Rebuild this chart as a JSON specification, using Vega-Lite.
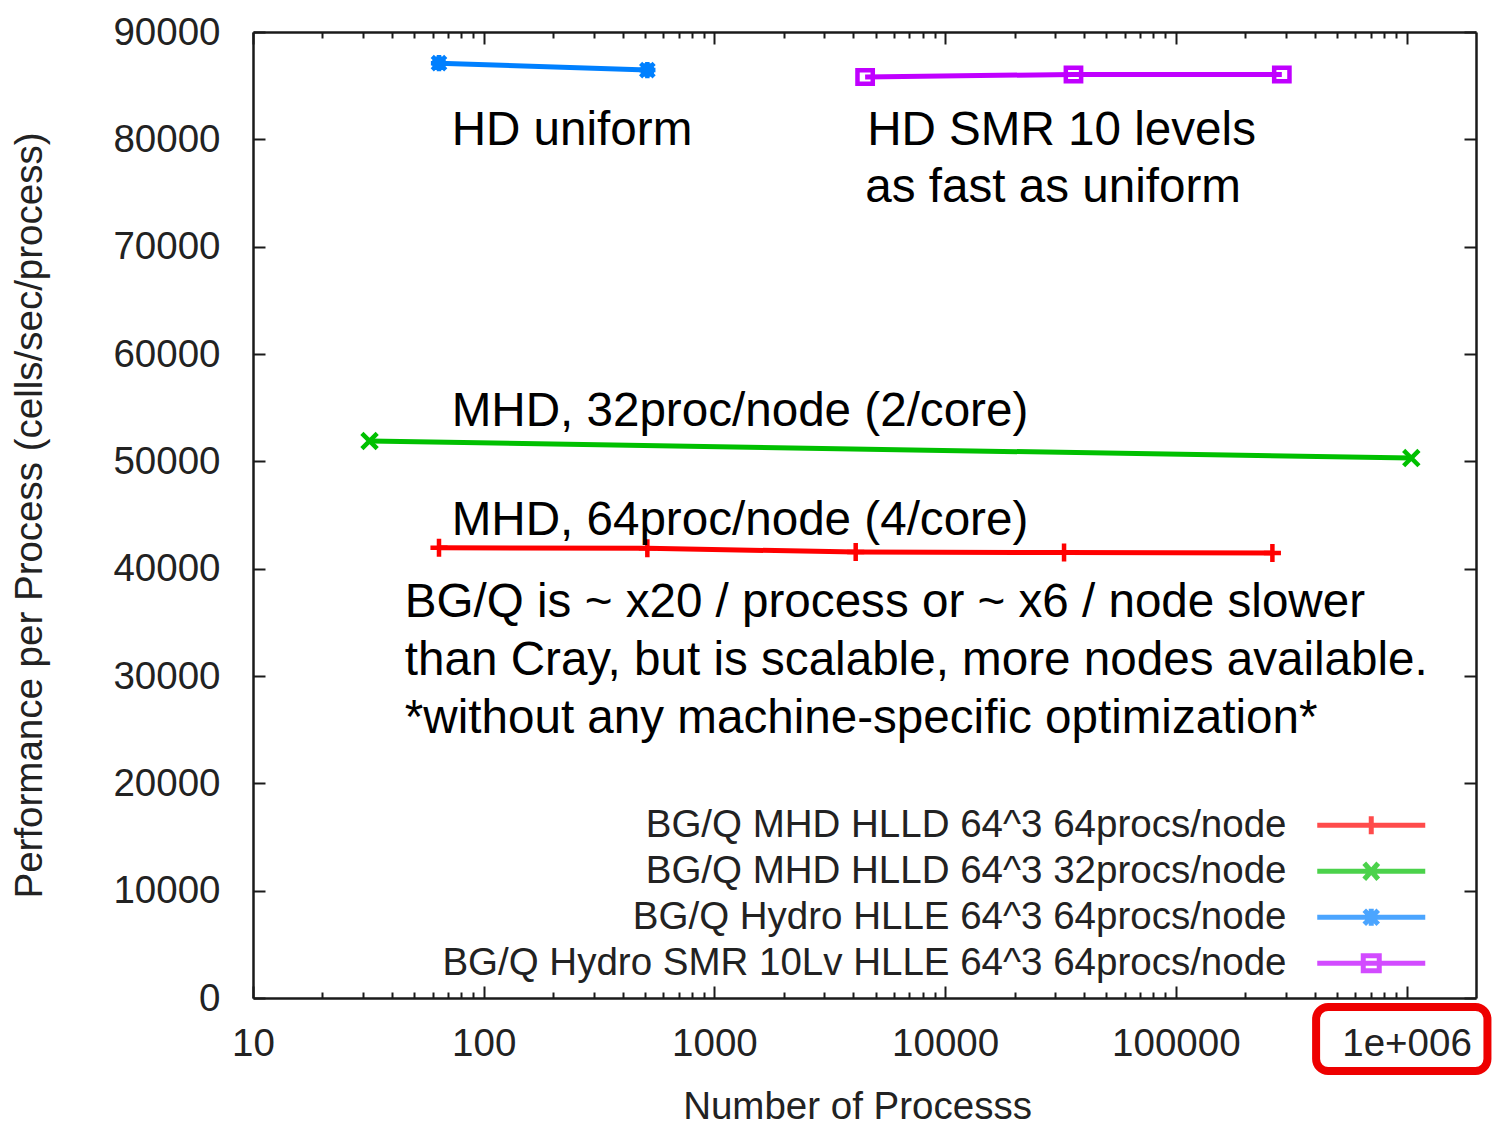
{
  "$schema": "https://vega.github.io/schema/vega-lite/v6.json",
  "autosize": "none",
  "padding": {"left": 253, "top": 32, "right": 17, "bottom": 129},
  "width": 1223,
  "height": 966,
  "background": "white",
  "config": {
    "view": {"stroke": null},
    "font": "Liberation Sans",
    "axis": {
      "grid": false,
      "domainColor": "#1a1a1a",
      "domainWidth": 2.5,
      "tickColor": "#1a1a1a",
      "tickWidth": 2,
      "labelFont": "Liberation Sans",
      "labelFontSize": 38.5,
      "labelColor": "#222222",
      "titleFont": "Liberation Sans",
      "titleFontSize": 38.5,
      "titleFontWeight": "normal",
      "titleColor": "#222222"
    }
  },
  "datasets": {
    "runs": [
      {"series": "BG/Q MHD HLLD 64^3 64procs/node", "procs": 64, "perf": 41950},
      {"series": "BG/Q MHD HLLD 64^3 64procs/node", "procs": 512, "perf": 41900},
      {"series": "BG/Q MHD HLLD 64^3 64procs/node", "procs": 4096, "perf": 41550},
      {"series": "BG/Q MHD HLLD 64^3 64procs/node", "procs": 32768, "perf": 41500},
      {"series": "BG/Q MHD HLLD 64^3 64procs/node", "procs": 262144, "perf": 41450},
      {"series": "BG/Q MHD HLLD 64^3 32procs/node", "procs": 32, "perf": 51900},
      {"series": "BG/Q MHD HLLD 64^3 32procs/node", "procs": 1048576, "perf": 50300},
      {"series": "BG/Q Hydro HLLE 64^3 64procs/node", "procs": 64, "perf": 87100},
      {"series": "BG/Q Hydro HLLE 64^3 64procs/node", "procs": 512, "perf": 86450},
      {"series": "BG/Q Hydro SMR 10Lv HLLE 64^3 64procs/node", "procs": 4500, "perf": 85800},
      {"series": "BG/Q Hydro SMR 10Lv HLLE 64^3 64procs/node", "procs": 36000, "perf": 86050},
      {"series": "BG/Q Hydro SMR 10Lv HLLE 64^3 64procs/node", "procs": 288000, "perf": 86050}
    ],
    "notes": [
      {"note": "HD uniform", "procs": 72.6, "perf": 79500},
      {"note": "HD SMR 10 levels", "procs": 4592, "perf": 79500},
      {"note": "as fast as uniform", "procs": 4510, "perf": 74150},
      {"note": "MHD, 32proc/node (2/core)", "procs": 72.6, "perf": 53300},
      {"note": "MHD, 64proc/node (4/core)", "procs": 72.6, "perf": 43150},
      {"note": "BG/Q is ~ x20 / process or ~ x6 / node slower", "procs": 45.5, "perf": 35500},
      {"note": "than Cray, but is scalable, more nodes available.", "procs": 45.5, "perf": 30100},
      {"note": "*without any machine-specific optimization*", "procs": 45.5, "perf": 24700}
    ],
    "highlight": [
      {"from": 405500, "to": 2242000, "low": -6800, "high": -840}
    ]
  },
  "resolve": {
    "scale": {"color": "independent", "shape": "independent"},
    "axis": {"x": "independent", "y": "independent"}
  },
  "layer": [
    {
      "data": {"name": "runs"},
      "mark": {"type": "line", "strokeWidth": 5},
      "encoding": {
        "x": {
          "field": "procs", "type": "quantitative",
          "scale": {"type": "log", "domain": [10, 2000000], "nice": false},
          "axis": {
            "orient": "bottom",
            "title": "Number of Processs",
            "values": [10, 100, 1000, 10000, 100000, 1000000],
            "labelExpr": "datum.value >= 1000000 ? '1e+006' : format(datum.value, 'd')",
            "tickSize": -12,
            "labelPadding": 39,
            "labelFlush": false,
            "labelOverlap": false,
            "titlePadding": 26,
            "titleX": 604
          }
        },
        "y": {
          "field": "perf", "type": "quantitative",
          "scale": {"domain": [0, 90000], "nice": false, "zero": false},
          "axis": {
            "orient": "left",
            "title": "Performance per Process (cells/sec/process)",
            "values": [0, 10000, 20000, 30000, 40000, 50000, 60000, 70000, 80000, 90000],
            "format": "d",
            "tickSize": -12,
            "labelPadding": 45,
            "labelOverlap": false,
            "titlePadding": 63
          }
        },
        "color": {
          "field": "series", "type": "nominal", "legend": null,
          "scale": {
            "domain": ["BG/Q MHD HLLD 64^3 64procs/node", "BG/Q MHD HLLD 64^3 32procs/node", "BG/Q Hydro HLLE 64^3 64procs/node", "BG/Q Hydro SMR 10Lv HLLE 64^3 64procs/node"],
            "range": ["#ff0000", "#00c000", "#0080ff", "#c000ff"]
          }
        }
      }
    },
    {
      "data": {"name": "runs"},
      "mark": {"type": "point", "filled": false, "size": 324, "strokeWidth": 4.5, "opacity": 1},
      "encoding": {
        "x": {
          "field": "procs", "type": "quantitative",
          "axis": {"orient": "top", "title": null, "labels": false, "values": [10, 100, 1000, 10000, 100000, 1000000], "tickSize": -12}
        },
        "y": {
          "field": "perf", "type": "quantitative",
          "axis": {"orient": "right", "title": null, "labels": false, "values": [0, 10000, 20000, 30000, 40000, 50000, 60000, 70000, 80000, 90000], "tickSize": -12}
        },
        "color": {
          "field": "series", "type": "nominal", "legend": null,
          "scale": {
            "domain": ["BG/Q MHD HLLD 64^3 64procs/node", "BG/Q MHD HLLD 64^3 32procs/node", "BG/Q Hydro HLLE 64^3 64procs/node", "BG/Q Hydro SMR 10Lv HLLE 64^3 64procs/node"],
            "range": ["#ff0000", "#00c000", "#0080ff", "#c000ff"]
          }
        },
        "shape": {
          "field": "series", "type": "nominal", "legend": null,
          "scale": {
            "domain": ["BG/Q MHD HLLD 64^3 64procs/node", "BG/Q MHD HLLD 64^3 32procs/node", "BG/Q Hydro HLLE 64^3 64procs/node", "BG/Q Hydro SMR 10Lv HLLE 64^3 64procs/node"],
            "range": [
              "M-0.95,0H0.95M0,-1V1",
              "M-0.85,-0.85L0.85,0.85M-0.85,0.85L0.85,-0.85",
              "M-0.9,0H0.9M0,-0.9V0.9M-0.75,-0.75L0.75,0.75M-0.75,0.75L0.75,-0.75M-0.5,-0.5H0.5V0.5H-0.5Z",
              "M-0.85,-0.75H0.85V0.75H-0.85Z"
            ]
          }
        }
      }
    },
    {
      "data": {"name": "runs"},
      "transform": [{"filter": "false"}],
      "mark": {"type": "point", "filled": false, "strokeWidth": 5},
      "encoding": {
        "x": {
          "field": "procs", "type": "quantitative",
          "axis": {
            "orient": "bottom", "title": null, "labels": false, "domain": false, "tickSize": -6,
            "values": [20, 30, 40, 50, 60, 70, 80, 90, 200, 300, 400, 500, 600, 700, 800, 900, 2000, 3000, 4000, 5000, 6000, 7000, 8000, 9000, 20000, 30000, 40000, 50000, 60000, 70000, 80000, 90000, 200000, 300000, 400000, 500000, 600000, 700000, 800000, 900000]
          }
        },
        "y": {"field": "perf", "type": "quantitative", "axis": null},
        "color": {
          "field": "series", "type": "nominal",
          "scale": {
            "domain": ["BG/Q MHD HLLD 64^3 64procs/node", "BG/Q MHD HLLD 64^3 32procs/node", "BG/Q Hydro HLLE 64^3 64procs/node", "BG/Q Hydro SMR 10Lv HLLE 64^3 64procs/node"],
            "range": ["#ff0000", "#00c000", "#0080ff", "#c000ff"]
          },
          "legend": {
            "orient": "none", "legendX": 1099, "legendY": 774, "title": null, "direction": "vertical",
            "symbolSize": 400, "symbolStrokeWidth": 5, "labelAlign": "right", "labelOffset": -104,
            "labelFontSize": 38.5, "labelFont": "Liberation Sans", "labelColor": "#222222", "labelLimit": 0,
            "rowPadding": 7, "padding": 0
          }
        },
        "shape": {
          "field": "series", "type": "nominal",
          "scale": {
            "domain": ["BG/Q MHD HLLD 64^3 64procs/node", "BG/Q MHD HLLD 64^3 32procs/node", "BG/Q Hydro HLLE 64^3 64procs/node", "BG/Q Hydro SMR 10Lv HLLE 64^3 64procs/node"],
            "range": [
              "M-5.4,0H5.4M0,-0.9V0.9",
              "M-5.4,0H5.4M-0.7,-0.8L0.7,0.8M-0.7,0.8L0.7,-0.8",
              "M-5.4,0H5.4M0,-0.85V0.85M-0.7,-0.7L0.7,0.7M-0.7,0.7L0.7,-0.7",
              "M-5.4,0H5.4M-0.8,-0.75H0.8V0.75H-0.8Z"
            ]
          },
          "legend": {
            "orient": "none", "legendX": 1099, "legendY": 774, "title": null, "direction": "vertical",
            "symbolSize": 400, "symbolStrokeWidth": 5, "labelAlign": "right", "labelOffset": -104,
            "labelFontSize": 38.5, "labelFont": "Liberation Sans", "labelColor": "#222222", "labelLimit": 0,
            "rowPadding": 7, "padding": 0
          }
        }
      }
    },
    {
      "data": {"name": "notes"},
      "mark": {"type": "text", "align": "left", "baseline": "alphabetic", "fontSize": 47.6, "font": "Liberation Sans", "color": "#000000"},
      "encoding": {
        "x": {
          "field": "procs", "type": "quantitative",
          "axis": {
            "orient": "top", "title": null, "labels": false, "domain": false, "tickSize": -6,
            "values": [20, 30, 40, 50, 60, 70, 80, 90, 200, 300, 400, 500, 600, 700, 800, 900, 2000, 3000, 4000, 5000, 6000, 7000, 8000, 9000, 20000, 30000, 40000, 50000, 60000, 70000, 80000, 90000, 200000, 300000, 400000, 500000, 600000, 700000, 800000, 900000]
          }
        },
        "y": {"field": "perf", "type": "quantitative", "axis": null},
        "text": {"field": "note"}
      }
    },
    {
      "data": {"name": "highlight"},
      "mark": {"type": "rect", "cornerRadius": 12, "fillOpacity": 0, "stroke": "#ee0000", "strokeWidth": 8},
      "encoding": {
        "x": {"field": "from", "type": "quantitative", "axis": null},
        "x2": {"field": "to"},
        "y": {"field": "low", "type": "quantitative", "axis": null},
        "y2": {"field": "high"}
      }
    }
  ]
}
